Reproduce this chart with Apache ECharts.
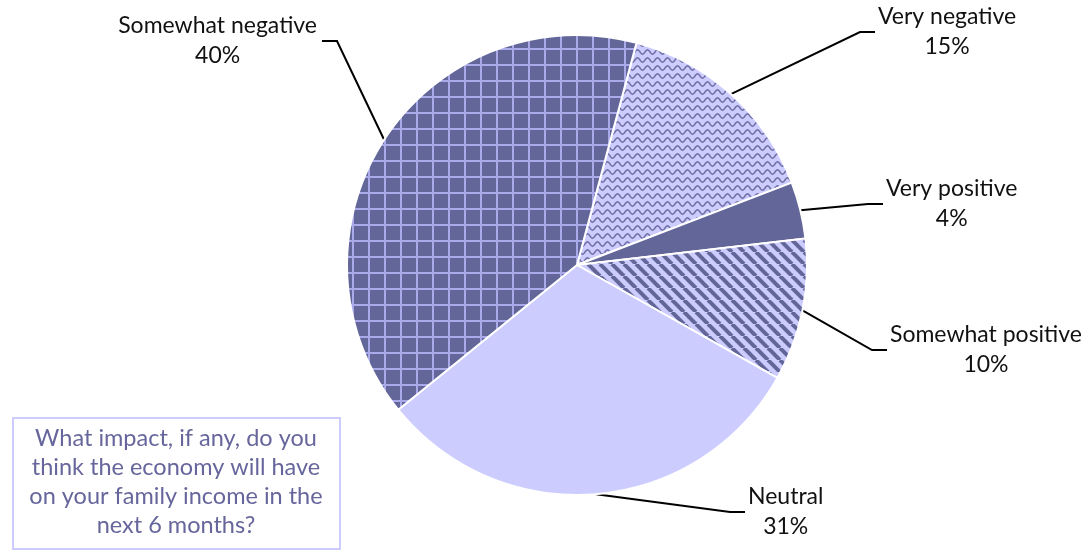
<!DOCTYPE html>
<html>
<head>
<meta charset="utf-8">
<script src="https://cdn.jsdelivr.net/npm/echarts@6/dist/echarts.min.js"></script>
<style>
  html, body { margin: 0; padding: 0; background: #fff; }
  #main { width: 1089px; height: 552px; }
</style>
</head>
<body>
<div id="main"></div>
<script>
// data (clockwise from the top)
var categories = ["Very negative", "Very positive", "Somewhat positive", "Neutral", "Somewhat negative"];
var shares = [15, 4, 10, 31, 40];

var question = "What impact, if any, do you\nthink the economy will have\non your family income in the\nnext 6 months?";

// where each leader line ends (next to its label)
var labelEnds = [[875, 32], [883, 204], [887, 350], [745, 512], [322, 41]];

var dark = "#636699";
var light = "#ccccff";

// fill patterns
function makeCanvas(w, h) {
  var c = document.createElement("canvas");
  c.width = w;
  c.height = h;
  return c;
}

function gridPattern() {
  var c = makeCanvas(16, 16);
  var ctx = c.getContext("2d");
  ctx.fillStyle = dark;
  ctx.fillRect(0, 0, 16, 16);
  ctx.fillStyle = "#aaaaea";
  ctx.fillRect(0, 0, 2, 16);
  ctx.fillRect(0, 0, 16, 2);
  return c;
}

function wavePattern() {
  var c = makeCanvas(10, 8);
  var ctx = c.getContext("2d");
  ctx.fillStyle = light;
  ctx.fillRect(0, 0, 10, 8);
  ctx.strokeStyle = "#6f6fa6";
  ctx.lineWidth = 1.5;
  ctx.beginPath();
  for (var x = -1; x <= 11; x += 0.5) {
    var y = 4 + 2.2 * Math.sin((x / 10) * Math.PI * 2);
    if (x === -1) ctx.moveTo(x, y); else ctx.lineTo(x, y);
  }
  ctx.stroke();
  return c;
}

function stripePattern() {
  var c = makeCanvas(12, 12);
  var ctx = c.getContext("2d");
  ctx.fillStyle = light;
  ctx.fillRect(0, 0, 12, 12);
  ctx.strokeStyle = dark;
  ctx.lineWidth = 4;
  [-12, 0, 12].forEach(function (x0) {
    ctx.beginPath();
    ctx.moveTo(x0, 0);
    ctx.lineTo(x0 + 12, 12);
    ctx.stroke();
  });
  return c;
}

var fills = [
  { image: wavePattern(), repeat: "repeat" },
  dark,
  { image: stripePattern(), repeat: "repeat" },
  light,
  { image: gridPattern(), repeat: "repeat" }
];

var pieData = categories.map(function (name, i) {
  return { name: name, value: shares[i], itemStyle: { color: fills[i] } };
});

var myChart = echarts.init(document.getElementById("main"));

myChart.setOption({
  animation: false,
  textStyle: { fontFamily: "Lato" },
  graphic: [
    {
      type: "rect",
      shape: { x: 13, y: 418, width: 327, height: 131 },
      style: { fill: "#fff", stroke: light, lineWidth: 2 }
    },
    {
      type: "text",
      x: 176,
      y: 482,
      style: {
        text: question,
        fill: "#66669c",
        font: "23.5px Lato",
        align: "center",
        verticalAlign: "middle",
        lineHeight: 29
      }
    }
  ],
  series: [
    {
      type: "pie",
      center: [577, 265],
      radius: 230,
      startAngle: 75,
      clockwise: true,
      avoidLabelOverlap: false,
      itemStyle: { borderColor: "#fff", borderWidth: 2 },
      label: {
        show: true,
        position: "outside",
        formatter: "{b}\n{c}%",
        color: "#111",
        fontSize: 23,
        lineHeight: 30,
        align: "center"
      },
      labelLine: {
        show: true,
        length: 20,
        length2: 15,
        lineStyle: { color: "#000", width: 2 }
      },
      labelLayout: function (params) {
        var end = labelEnds[params.dataIndex];
        var p0 = params.labelLinePoints[0];
        var w = params.labelRect.width;
        var onRight = end[0] > 577;
        var bend = onRight ? [end[0] - 15, end[1]] : [end[0] + 15, end[1]];
        return {
          x: onRight ? end[0] + 3 + w / 2 : end[0] - 5 - w / 2,
          y: end[1],
          align: "center",
          verticalAlign: "middle",
          labelLinePoints: [p0, bend, end]
        };
      },
      emphasis: { disabled: true },
      data: pieData
    }
  ]
});
</script>
</body>
</html>
